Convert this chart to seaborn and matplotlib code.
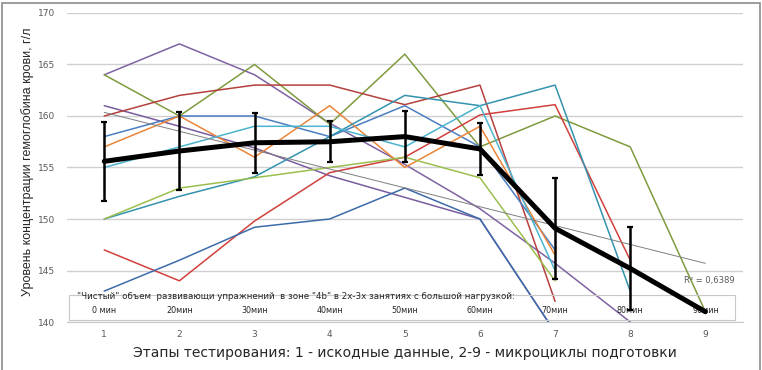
import numpy as np
import pandas as pd
import matplotlib
matplotlib.use("Agg")
import matplotlib.pyplot as plt
import seaborn as sns
from matplotlib.patches import Rectangle

# stages of testing
stages = [1, 2, 3, 4, 5, 6, 7, 8, 9]
minutes = ["0 мин", "20мин", "30мин", "40мин", "50мин", "60мин", "70мин", "80мин", "90мин"]

# individual athletes (hemoglobin, g/l)
purple_a = [164, 167, 164, 159.3, 155.3, 151, 145.7, 140, np.nan]
purple_b = [161, 159, 156.9, 154.2, 152.1, 150, 139, np.nan, np.nan]
olive = [164, 160, 165, 159.2, 166, 157, 160, 157, 141]
red_a = [160, 162, 163, 163, 161.1, 163, 142, np.nan, np.nan]
red_b = [147, 144, 149.8, 154.5, 156, 160.1, 161.1, 146, np.nan]
blue_a = [158, 160, 160, 158, 161, 157, 147, np.nan, np.nan]
blue_b = [143, 146, 149.2, 150, 153, 150, 139, np.nan, np.nan]
orange = [157, 160, 156, 161, 155, 159, 146.5, np.nan, np.nan]
teal_a = [150, 152.2, 154.1, 158, 162, 161, 163, 143, np.nan]
teal_b = [155, 157, 159, 159, 157, 161, 145, np.nan, np.nan]
green = [150, 153, 154, 155, 156, 154, 144, np.nan, np.nan]

# group mean and spread
mean_hb = [155.6, 156.6, 157.4, 157.5, 158.0, 156.8, 149.1, 145.2, 141.0]
err_hb = [3.85, 3.8, 2.9, 2.0, 2.45, 2.55, 4.9, 4.0, 0]

series = {
    "p1": purple_a, "p2": purple_b, "ol": olive, "r1": red_a, "r2": red_b,
    "b1": blue_a, "b2": blue_b, "or": orange, "t1": teal_a, "t2": teal_b,
    "gr": green,
}
palette = {
    "p1": "#7F62A2", "p2": "#7A5C9E", "ol": "#7E9B3E", "r1": "#B5403D",
    "r2": "#D0403C", "b1": "#4A7EC0", "b2": "#3C6BAA", "or": "#EB8538",
    "t1": "#3393AE", "t2": "#4BB4CF", "gr": "#9BBF4E",
}

rows = []
for name, vals in series.items():
    for s, v in zip(stages, vals):
        rows.append({"stage": s, "hb": v, "who": name})
df = pd.DataFrame(rows).dropna()

sns.set_style("white")
fig = plt.figure(figsize=(7.62, 3.70), dpi=100)
ax = fig.add_axes([0.0875, 0.1297, 0.8875, 0.8352])

sns.lineplot(data=df, x="stage", y="hb", hue="who", palette=palette,
             estimator=None, sort=False, linewidth=1.1, legend=False, ax=ax)

# linear trend of the mean
k, b = np.polyfit(stages, mean_hb, 1)
xs = np.array(stages, dtype=float)
ax.plot(xs, k * xs + b, color="#7F7F7F", lw=0.7, zorder=4)

ax.plot(stages, mean_hb, color="black", lw=3.6, zorder=5, solid_joinstyle="round")
ax.errorbar(stages[:-1], mean_hb[:-1], yerr=err_hb[:-1], fmt="none",
            ecolor="black", elinewidth=1.8, capsize=2.5, capthick=1.6, zorder=6)

ax.set_xlim(0.5, 9.5)
ax.set_ylim(140, 170)
ax.set_yticks(range(140, 171, 5))
ax.set_xticks(stages)
ax.yaxis.grid(True, color="#D0D0D0", lw=1)
ax.xaxis.grid(False)
for sp in ["left", "right", "top"]:
    ax.spines[sp].set_visible(False)
ax.spines["bottom"].set_color("#C8C8C8")
ax.tick_params(axis="both", length=0, labelsize=6.5, colors="#595959")
ax.tick_params(axis="y", pad=8)
ax.tick_params(axis="x", pad=6)

ax.set_ylabel("Уровень концентрации гемоглобина крови, г/л",
              fontsize=9, family="Liberation Sans", labelpad=4)
ax.yaxis.set_label_coords(-0.048, 0.52)
ax.set_xlabel("Этапы тестирования: 1 - искодные данные, 2-9 - микроциклы подготовки",
              fontsize=10, labelpad=5)

ax.text(0.988, 0.133, "R² = 0,6389", transform=ax.transAxes, fontsize=6,
        color="#595959", ha="right", va="center")

# caption box inside the plot
ax.add_patch(Rectangle((0.004, 0.006), 0.984, 0.083,
                       transform=ax.transAxes, fill=False, edgecolor="#C8C8C8",
                       lw=0.8, zorder=3))
ax.text(0.0155, 0.083, '"Чистый" объем  развивающи упражнений  в зоне "4b" в 2х-3х занятиях с большой нагрузкой:',
        transform=ax.transAxes, fontsize=6.3, va="center", ha="left", color="#262626")
for s, lab in zip(stages, minutes):
    ax.text(s, 141.1, lab, fontsize=5.8, ha="center", va="center", color="#262626")

fig.patches.append(Rectangle((0.003, -0.01), 0.994, 1.002, transform=fig.transFigure,
                             fill=False, edgecolor="#8C8C8C", lw=1.2))

fig.savefig("out.png", dpi=100)
